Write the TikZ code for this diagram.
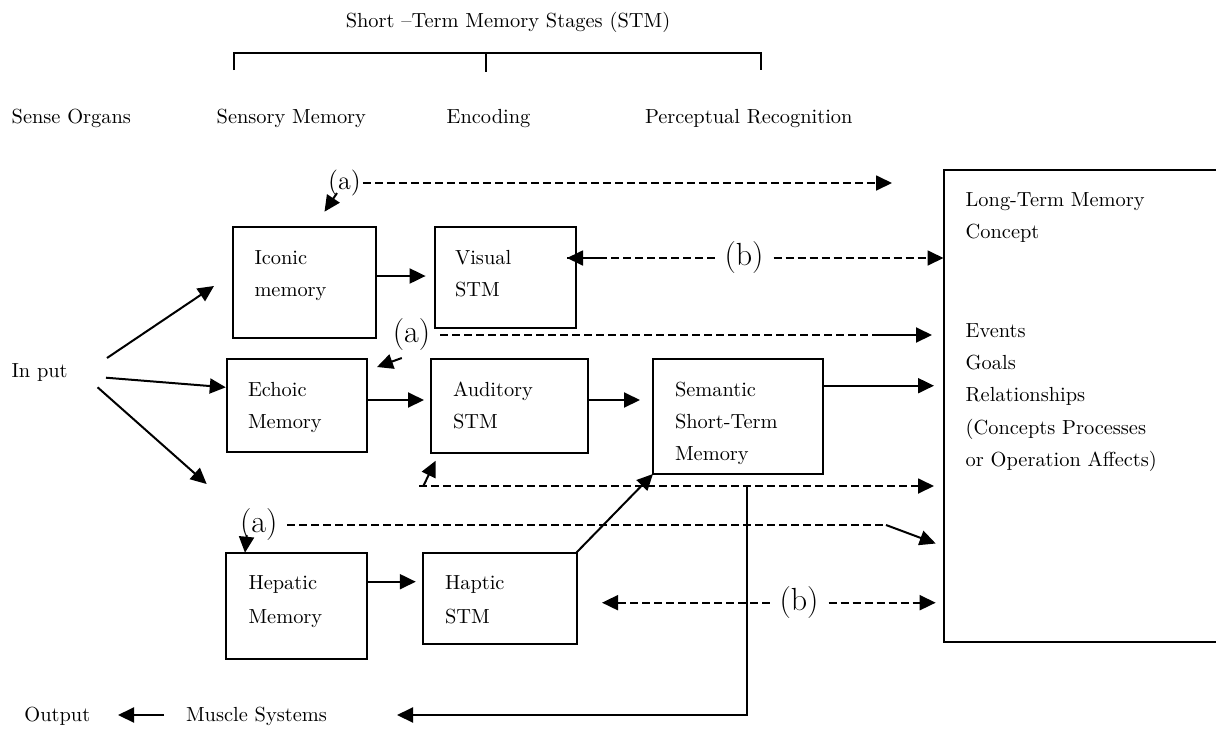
\documentclass[tikz,border=0pt]{standalone}
\usepackage{fontspec}
\usetikzlibrary{arrows.meta}
\begin{document}
\begin{tikzpicture}[x=0.5pt,y=-0.5pt,
  every node/.style={inner sep=0pt, outer sep=0pt},
  box/.style={draw, line width=1pt, anchor=north west},
  txt/.style={anchor=base west, font=\fontsize{10.2}{12}\selectfont},
  conn/.style={line width=1pt},
  arr/.style={conn, -{Triangle[length=8pt,width=7.5pt]}},
  dsh/.style={line width=0.9pt, dash pattern=on 4pt off 2pt},
  darr/.style={dsh, -{Triangle[length=8pt,width=7.5pt]}},
  lab/.style={font=\rmfamily\fontsize{16}{18}\selectfont}]
\useasboundingbox (0,0) rectangle (1216,729);

% header
\node[txt, anchor=base] (title) at (508,27.5) {Short –Term Memory Stages (STM)};
\draw[line width=1.1pt] (233.7,70) -- (233.7,53.3) -- (760.6,53.3) -- (760.6,70);
\draw[line width=1.1pt] (486,53.3) -- (486,72);
\node[txt] (senseorg) at (11.7,123.5) {Sense Organs};
\node[txt] (sensmem) at (216.7,123.5) {Sensory Memory};
\node[txt] (encoding) at (446.7,123.5) {Encoding};
\node[txt] (percrec) at (645,123.5) {Perceptual Recognition};

% boxes
\node[box, minimum width=71.55pt, minimum height=55.65pt] (iconic) at (232.7,226.7) {};
\node[box, minimum width=70.5pt, minimum height=50.5pt] (visual) at (435,226.7) {};
\node[box, minimum width=70.4pt, minimum height=46.5pt] (echoic) at (226.6,359) {};
\node[box, minimum width=78.5pt, minimum height=46.85pt] (auditory) at (431,359) {};
\node[box, minimum width=84.75pt, minimum height=57.5pt] (semantic) at (653,359) {};
\node[box, minimum width=70.5pt, minimum height=53.15pt] (hepatic) at (226,552.7) {};
\node[box, minimum width=76.75pt, minimum height=45.5pt] (haptic) at (423,552.5) {};
\node[box, minimum width=150pt, minimum height=235.75pt] (ltm) at (943.5,170) {};

% box texts
\node[txt] (iconic1) at (254.5,264) {Iconic};
\node[txt] (iconic2) at (254.5,296) {memory};
\node[txt] (visual1) at (455,264) {Visual};
\node[txt] (visual2) at (455,296) {STM};
\node[txt] (echoic1) at (248,396) {Echoic};
\node[txt] (echoic2) at (248,428) {Memory};
\node[txt] (aud1) at (453,396) {Auditory};
\node[txt] (aud2) at (453,428) {STM};
\node[txt] (sem1) at (675,396) {Semantic};
\node[txt] (sem2) at (675,428) {Short-Term};
\node[txt] (sem3) at (675,460) {Memory};
\node[txt] (hep1) at (248.5,589) {Hepatic};
\node[txt] (hep2) at (248.5,623) {Memory};
\node[txt] (hap1) at (445,589) {Haptic};
\node[txt] (hap2) at (445,623) {STM};
\node[txt] (ltm1) at (965.7,206) {Long-Term Memory};
\node[txt] (ltm2) at (965.7,238.7) {Concept};
\node[txt] (ltm3) at (965.7,337.7) {Events};
\node[txt] (ltm4) at (965.7,369.3) {Goals};
\node[txt] (ltm5) at (965.7,401) {Relationships};
\node[txt] (ltm6) at (965.7,434.3) {(Concepts Processes};
\node[txt] (ltm7) at (965.7,466) {or Operation Affects)};

\node[txt] (input) at (11.5,377.7) {In put};
\node[txt] (output) at (24.5,721) {Output};
\node[txt] (muscle) at (186,721) {Muscle Systems};

% (a)/(b) labels
\node[lab, font=\rmfamily\fontsize{13}{15}\selectfont, inner sep=1pt] (a1) at (344.5,183) {(a)};
\node[lab, inner sep=5pt] (a2) at (411.5,335) {(a)};
\node[lab, inner sep=5pt] (a3) at (258.8,525) {(a)};
\node[lab, inner sep=5pt] (b1) at (744,258) {(b)};
\node[lab, inner sep=5pt] (b2) at (799,602.7) {(b)};

% input arrows
\coordinate (in1) at (107,358); \coordinate (in1t) at (214,286);
\coordinate (in2) at (106,377.7); \coordinate (in2t) at (225.8,387.3);
\coordinate (in3) at (97.6,387.3); \coordinate (in3t) at (206.7,484);
\draw[arr] (in1) -- (in1t);
\draw[arr] (in2) -- (in2t);
\draw[arr] (in3) -- (in3t);

% flow arrows between boxes
\coordinate (r1) at (0,276);
\coordinate (r2) at (0,400);
\coordinate (r3) at (0,581.7);
\coordinate (r4) at (0,385.7);
\draw[arr, shorten >=4.7pt] (iconic.east |- r1) -- (visual.west |- r1);
\draw[arr, shorten >=3.5pt] (echoic.east |- r2) -- (auditory.west |- r2);
\draw[arr, shorten >=6.5pt] (auditory.east |- r2) -- (semantic.west |- r2);
\draw[arr, shorten >=3.6pt] (hepatic.east |- r3) -- (haptic.west |- r3);
\draw[arr, shorten >=4.75pt] (semantic.east |- r4) -- (ltm.west |- r4);
\draw[arr] (haptic.north east) -- (semantic.south west);

% top (a)
\coordinate (a1end) at (892,183);
\draw[darr] (a1.east) -- (a1end);
\coordinate (a1s) at (337,193); \coordinate (a1t) at (324.5,211.7);
\draw[arr] (a1s) -- (a1t);

% upper (b)
\coordinate (b1t) at (567,258); \coordinate (b1s) at (602,258);
\draw[darr] (b1.west) -- (b1t);
\draw[conn] (b1t) -- (b1s);
\draw[darr] (b1.east) -- (ltm.west |- b1.east);

% middle (a)
\coordinate (a2k) at (880,335);
\draw[dsh] (a2.east) -- (a2k);
\draw[arr, shorten >=5.75pt] (a2k) -- (ltm.west |- a2k);
\coordinate (a2s) at (401.8,358); \coordinate (a2t) at (377,367);
\draw[arr] (a2s) -- (a2t);

% dashed line below auditory
\coordinate (d1) at (419,486);
\draw[darr, shorten >=4.75pt] (d1) -- (ltm.west |- d1);
\coordinate (d1s) at (423.3,486); \coordinate (d1t) at (435.7,460.7);
\draw[arr] (d1s) -- (d1t);

% lower (a)
\coordinate (a3k) at (886,525); \coordinate (a3t) at (935.7,543.5);
\draw[dsh] (a3.east) -- (a3k);
\draw[arr] (a3k) -- (a3t);
\coordinate (a3s) at (246.7,535);
\draw[arr] (a3s) -- ([xshift=9.5pt]hepatic.north west);

% lower (b)
\coordinate (b2t) at (602,602.7);
\draw[darr] (b2.west) -- (b2t);
\draw[darr, shorten >=3.9pt] (b2.east) -- (ltm.west |- b2.east);

% output path
\coordinate (v1) at (747,485);
\coordinate (mt) at (397,715);
\draw[arr] (v1) |- (mt);
\coordinate (os) at (164,715); \coordinate (ot) at (118,715);
\draw[arr] (os) -- (ot);
\end{tikzpicture}
\end{document}
